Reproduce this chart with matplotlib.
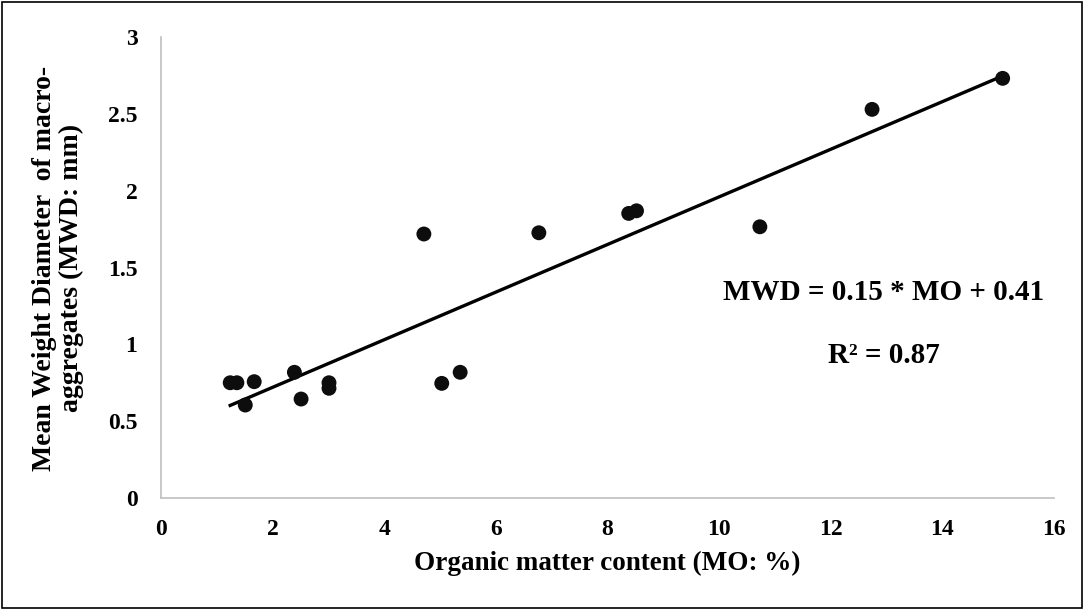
import numpy as np
import matplotlib
matplotlib.use("Agg")
import matplotlib.pyplot as plt
from matplotlib.patches import Rectangle

# organic matter (%) vs mean weight diameter of macro-aggregates (mm)
mo = [1.24, 1.36, 1.51, 1.67, 2.39, 2.51, 3.01, 3.01, 5.03, 5.36,
      4.71, 6.77, 8.38, 8.52, 10.73, 12.74, 15.08]
mwd = [0.75, 0.75, 0.605, 0.757, 0.818, 0.644, 0.75, 0.714, 0.746, 0.818,
       1.718, 1.726, 1.852, 1.869, 1.765, 2.529, 2.731]
x_ticks = [0, 2, 4, 6, 8, 10, 12, 14, 16]
y_ticks = [0, 0.5, 1, 1.5, 2, 2.5, 3]

plt.rcParams["font.family"] = ["Liberation Serif", "DejaVu Serif"]
plt.rcParams["font.weight"] = "bold"

fig = plt.figure(figsize=(10.84, 6.10), dpi=100)
ax = fig.add_axes([161 / 1084, 1 - 498 / 610, (1054 - 161) / 1084, (498 - 37) / 610])

mo_arr = np.array(mo)
mwd_arr = np.array(mwd)
slope, icpt = np.polyfit(mo_arr, mwd_arr, 1)
xl = np.array([mo_arr.min(), mo_arr.max()])

ax.plot(xl, slope * xl + icpt, color="black", lw=2.4, zorder=2)
ax.scatter(mo, mwd, s=115, color="#0d0d0d", edgecolors="none", zorder=3)

ax.set_xlim(0, 16)
ax.set_ylim(0, 3)
ax.set_xticks(x_ticks)
ax.set_xticklabels([str(v) for v in x_ticks])
ax.set_yticks(y_ticks)
ax.set_yticklabels([f"{v:g}" for v in y_ticks])
ax.tick_params(length=0, labelsize=17)
ax.tick_params(axis="x", pad=15)
ax.tick_params(axis="y", pad=17)
for lab in ax.get_xticklabels() + ax.get_yticklabels():
    lab.set_fontweight("bold")

for side in ["top", "right"]:
    ax.spines[side].set_visible(False)
for side in ["left", "bottom"]:
    ax.spines[side].set_color("#bfbfbf")
    ax.spines[side].set_linewidth(1.2)

ax.set_xlabel("Organic matter content (MO: %)", fontsize=19.5, fontweight="bold", labelpad=8)

fig.text(58 / 1084, 1 - 268 / 610, "Mean Weight Diameter  of macro-\naggregates (MWD: mm)",
         rotation=90, ha="center", va="center", fontsize=20, fontweight="bold",
         linespacing=1.05)

ax.text(12.95, 1.34, "MWD = 0.15 * MO + 0.41", ha="center", va="center",
        fontsize=21, fontweight="bold")
ax.text(12.95, 0.93, "R² = 0.87", ha="center", va="center",
        fontsize=21, fontweight="bold")

fig.patches.append(Rectangle((2 / 1084, 2 / 610), 1080 / 1084, 606 / 610,
                             transform=fig.transFigure, fill=False,
                             edgecolor="black", lw=1.2))

fig.savefig("out.png", dpi=100)
